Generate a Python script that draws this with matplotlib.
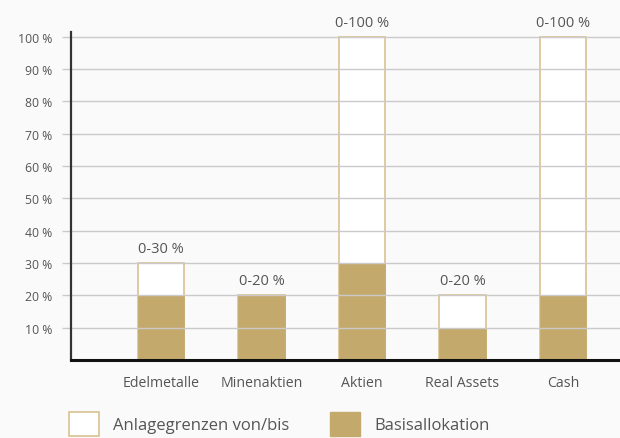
"""Anlagegrenzen und Basisallokation je Anlageklasse."""
import matplotlib
matplotlib.use("Agg")
import matplotlib.pyplot as plt
from matplotlib.patches import Patch
import numpy as np

plt.rcParams['font.family'] = ['Open Sans', 'DejaVu Sans']

categories = ['Edelmetalle', 'Minenaktien', 'Aktien', 'Real Assets', 'Cash']
limit_max = [30, 20, 100, 20, 100]
basis = [20, 20, 30, 10, 20]
limit_labels = ['0-30 %', '0-20 %', '0-100 %', '0-20 %', '0-100 %']
yticks = [10, 20, 30, 40, 50, 60, 70, 80, 90, 100]

_bg = "#fafafa"
_gold = "#c4a96c"
_edge = "#dcc79a"
_txt = "#555555"

fig = plt.figure(figsize=(6.2, 4.39), dpi=100, facecolor=_bg)
ax = fig.add_axes([71/620, 78/439, 549/620, (361-33)/439], facecolor=_bg)

x = np.arange(len(categories))
ax.bar(x, limit_max, width=0.46, color="white", edgecolor=_edge,
       linewidth=1.3, zorder=1)
ax.bar(x, basis, width=0.46, color=_gold, edgecolor=_gold, linewidth=0.5,
       zorder=1.5)

for _i in range(len(categories)):
    ax.annotate(limit_labels[_i], xy=(x[_i], limit_max[_i]),
                xytext=(0, 5), textcoords="offset points", ha="center",
                va="bottom", fontsize=10.5, color=_txt)

ax.set_xlim(-0.896, 4.567)
ax.set_ylim(0, 101.5)
ax.set_yticks(yticks)
ax.set_yticklabels([f"{v} %" for v in yticks])
ax.set_xticks(x)
ax.set_xticklabels(categories)

# grid lines run over the bars, like in the original
ax.yaxis.grid(True, color="#cacaca", linewidth=1.0)
ax.set_axisbelow(False)
ax.tick_params(axis="y", length=6.5, width=1.0, color="#cacaca",
               labelsize=8.8, labelcolor=_txt, pad=7)
ax.tick_params(axis="x", length=0, labelsize=10.2, labelcolor=_txt, pad=11)

for s in ("top", "right"):
    ax.spines[s].set_visible(False)
ax.spines["left"].set_color("#333333")
ax.spines["left"].set_linewidth(1.6)
ax.spines["bottom"].set_color("#111111")
ax.spines["bottom"].set_linewidth(2.2)
ax.spines["left"].set_zorder(5)
ax.spines["bottom"].set_zorder(5)

handles = [Patch(facecolor="white", edgecolor=_edge, linewidth=1.3,
                 label="Anlagegrenzen von/bis"),
           Patch(facecolor=_gold, edgecolor=_gold, label="Basisallokation")]
fig.legend(handles=handles, loc="upper left",
           bbox_to_anchor=(69/620, 1 - 413/439), ncol=2, frameon=False,
           fontsize=12, labelcolor=_txt, handlelength=1.8, handleheight=1.8,
           handletextpad=0.84, columnspacing=2.45, borderpad=0,
           borderaxespad=0)

fig.savefig("out.png", dpi=100, facecolor=_bg)
